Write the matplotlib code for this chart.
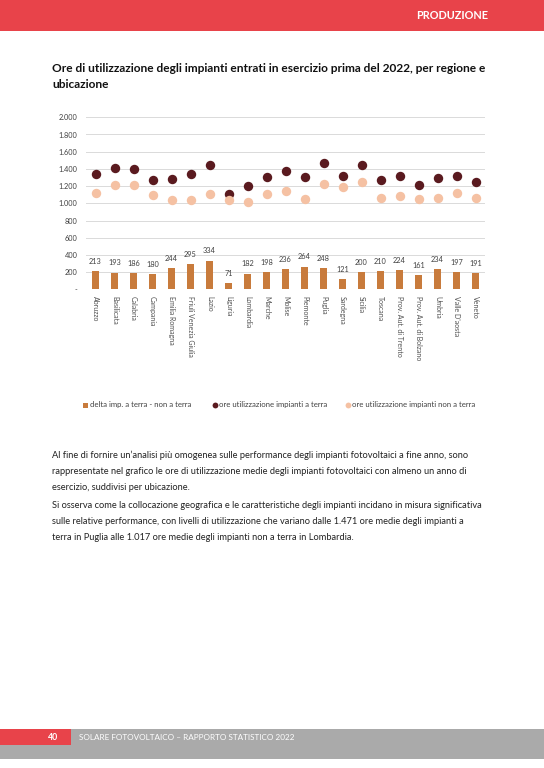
import matplotlib
matplotlib.use("Agg")
import matplotlib.pyplot as plt
from matplotlib.patches import Rectangle
from matplotlib.lines import Line2D
from matplotlib.ticker import FuncFormatter
import numpy as np

plt.rcParams['font.family'] = ['Lato', 'DejaVu Sans']

regions = ["Abruzzo", "Basilicata", "Calabria", "Campania", "Emilia Romagna",
           "Friuli Venezia Giulia", "Lazio", "Liguria", "Lombardia", "Marche",
           "Molise", "Piemonte", "Puglia", "Sardegna", "Sicilia", "Toscana",
           "Prov. Aut. di Trento", "Prov. Aut. di Bolzano", "Umbria",
           "Valle D'aosta", "Veneto"]
delta = [213, 193, 186, 180, 244, 295, 334, 71, 182, 198, 236, 264, 248, 121,
         200, 210, 224, 161, 234, 197, 191]
ore_terra = [1337, 1408, 1400, 1271, 1279, 1337, 1443, 1110, 1199, 1310, 1380,
             1310, 1471, 1314, 1443, 1275, 1314, 1212, 1294, 1318, 1251]
ore_non_terra = [1124, 1215, 1214, 1091, 1035, 1042, 1109, 1039, 1017, 1112,
                 1144, 1046, 1223, 1193, 1243, 1065, 1090, 1051, 1060, 1121, 1060]
yticks = [0, 200, 400, 600, 800, 1000, 1200, 1400, 1600, 1800, 2000]

W, H = 544, 768
fig = plt.figure(figsize=(W / 100, H / 100), dpi=100)

def fx(x):
    return x / W

def fy(y):
    return 1 - y / H

RED = "#E8434A"
GRAY = "#AAAAAA"
BAR = "#C87B3C"
DARK = "#5A1A1F"
LIGHT = "#F5C1A3"
TXT = "#222222"

# header band
fig.patches.append(Rectangle((0, fy(31)), 1, 31 / H, transform=fig.transFigure,
                             facecolor=RED, edgecolor="none", zorder=0))
fig.text(fx(488), fy(15.5), "PRODUZIONE", color="white", fontsize=7.8,
         fontweight="bold", ha="right", va="center")

# footer
fig.patches.append(Rectangle((0, fy(759)), 1, 30 / H, transform=fig.transFigure,
                             facecolor=GRAY, edgecolor="none", zorder=0))
fig.patches.append(Rectangle((0, fy(744.5)), fx(70.5), 15.5 / H, transform=fig.transFigure,
                             facecolor=RED, edgecolor="none", zorder=1))
fig.text(fx(58), fy(737), "40", color="white", fontsize=6.3, fontweight="bold",
         ha="right", va="center")
fig.text(fx(79), fy(737.5), "SOLARE FOTOVOLTAICO – RAPPORTO STATISTICO 2022",
         color="white", fontsize=5.9, ha="left", va="center")

# title
fig.text(fx(52), fy(68), "Ore di utilizzazione degli impianti entrati in esercizio prima del 2022, per regione e",
         fontsize=8.6, fontweight="bold", color="#111111", ha="left", va="center")
fig.text(fx(52), fy(84), "ubicazione", fontsize=8.6, fontweight="bold",
         color="#111111", ha="left", va="center")

# chart
ax = fig.add_axes([fx(86), fy(289.3), fx(485) - fx(86), (289.3 - 117.3) / H])
x = np.arange(len(regions))
ax.bar(x, delta, width=0.4, color=BAR, zorder=2)
ax.scatter(x, ore_terra, s=46, color=DARK, zorder=3, linewidths=0)
ax.scatter(x, ore_non_terra, s=46, color=LIGHT, zorder=3, linewidths=0)
for xi, v in zip(x, delta):
    ax.annotate(str(v), (xi, v), xytext=(0, 4.5), textcoords="offset points",
                ha="center", va="bottom", fontsize=5.3, color="#404040")
ax.set_xlim(-0.5, len(regions) - 0.5)
ax.set_ylim(0, 2000)
ax.set_yticks(yticks)
ax.yaxis.set_major_formatter(FuncFormatter(
    lambda v, p: "-" if v == 0 else f"{int(v):,}".replace(",", ".")))
ax.grid(axis="y", color="#DADADA", linewidth=0.7, zorder=0)
ax.set_axisbelow(True)
for s in ax.spines.values():
    s.set_visible(False)
ax.tick_params(axis="y", length=0, labelsize=5.3, labelcolor="#404040", pad=6)
ax.set_xticks(x)
ax.set_xticklabels(regions, rotation=-90, fontsize=5, color="#505050",
                   va="top", ha="center")
ax.tick_params(axis="x", length=0, pad=5)

# legend
leg_y = fy(405)
fig.patches.append(Rectangle((fx(83), leg_y - 2.5 / H), 5 / W, 5 / H,
                             transform=fig.transFigure, facecolor=BAR, edgecolor="none"))
fig.text(fx(90), leg_y, "delta imp. a terra - non a terra", fontsize=5.6,
         color="#404040", ha="left", va="center")
fig.lines.append(Line2D([fx(215)], [leg_y], marker="o", markersize=4.2, color=DARK,
                        markeredgewidth=0, transform=fig.transFigure))
fig.text(fx(219), leg_y, "ore utilizzazione impianti a terra", fontsize=5.6,
         color="#404040", ha="left", va="center")
fig.lines.append(Line2D([fx(348)], [leg_y], marker="o", markersize=4.2, color=LIGHT,
                        markeredgewidth=0, transform=fig.transFigure))
fig.text(fx(352), leg_y, "ore utilizzazione impianti non a terra", fontsize=5.6,
         color="#404040", ha="left", va="center")

# body text
lines1 = ["Al fine di fornire un’analisi più omogenea sulle performance degli impianti fotovoltaici a fine anno, sono",
          "rappresentate nel grafico le ore di utilizzazione medie degli impianti fotovoltaici con almeno un anno di",
          "esercizio, suddivisi per ubicazione."]
lines2 = ["Si osserva come la collocazione geografica e le caratteristiche degli impianti incidano in misura significativa",
          "sulle relative performance, con livelli di utilizzazione che variano dalle 1.471 ore medie degli impianti a",
          "terra in Puglia alle 1.017 ore medie degli impianti non a terra in Lombardia."]
for i, t in enumerate(lines1):
    fig.text(fx(52), fy(455.5 + 16 * i), t, fontsize=6.7, color=TXT, ha="left", va="center")
for i, t in enumerate(lines2):
    fig.text(fx(52), fy(505 + 16 * i), t, fontsize=6.7, color=TXT, ha="left", va="center")

fig.savefig("out.png", dpi=100)
